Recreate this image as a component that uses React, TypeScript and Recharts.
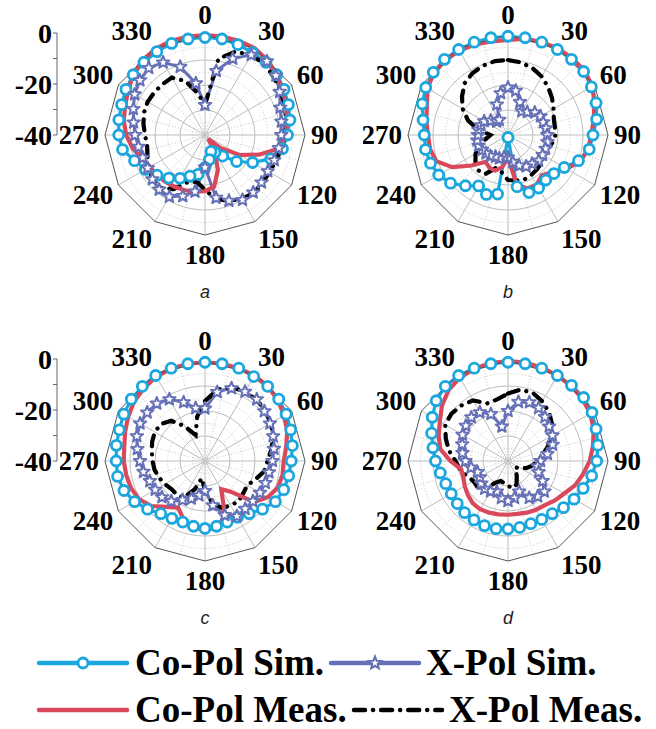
import React from "react";
import {
  RadarChart,
  Radar,
  PolarGrid,
  PolarAngleAxis,
  PolarRadiusAxis,
  LineChart,
  Line,
  XAxis,
  YAxis,
} from "recharts";

// angles in degrees, clockwise from top
const angles = [
  0, 10, 20, 30, 40, 50, 60, 70, 80, 90, 100, 110, 120, 130, 140, 150, 160, 170,
  180, 190, 200, 210, 220, 230, 240, 250, 260, 270, 280, 290, 300, 310, 320, 330, 340, 350,
];
const angleTicks = [0, 30, 60, 90, 120, 150, 180, 210, 240, 270, 300, 330];
const dbTicks = [0, -10, -20, -30, -40];
const dbLabels = [0, -20, -40];
const DB_MIN = -40;
const DB_MAX = 0;

// (a)
const aCoSim = [-1, -1, -1.5, -2, -2, -2.5, -3.5, -4.5, -5.5, -7, -8.5, -12, -18, -23.5, -29, -32, -33, -30, -27, -24, -22.5, -20, -17.5, -15, -12.5, -10, -6.5, -5.5, -5, -4.5, -3.5, -2.5, -2, -1.5, -1, -1];
const aXSim = [-28, -14, -7.5, -3, -1.5, -3, -5.5, -8, -9, -9.5, -10, -10.5, -11, -10.5, -10, -10, -12, -14.5, -27, -17, -14, -11.5, -11.5, -12.5, -13.5, -13.5, -13, -12, -11, -9.5, -7.5, -6, -5, -6.5, -11, -19];
const aCoMeas = [0, 0, 0, 0, -1, -2.5, -4, -5.5, -6.5, -7.6, -9.6, -17, -24, -32, -38, -32, -25, -19, -17.5, -17, -16.5, -16, -15.5, -15, -14.5, -13, -10.5, -8.5, -7, -6, -4.5, -2.5, -1, -0.3, 0, 0];
const aXMeas = [-28, -9, -4.5, -3, -3, -4, -5, -6, -7, -8, -9, -9.7, -10.3, -10, -9.7, -10.5, -12, -14, -18, -21, -20, -15, -12.5, -12.5, -14, -15.5, -16.5, -16, -15, -14, -13.5, -13.5, -13.5, -13.5, -17, -23];

// (b)
const bCoSim = [-0.5, -0.5, -0.5, -0.5, -0.5, -0.5, -1.5, -2.5, -4, -6, -7, -10, -14, -16, -16.5, -15.5, -15.5, -19, -39, -16, -14.7, -16.5, -13.5, -10, -8, -7, -6.5, -6.5, -5.5, -3.5, -2, -1, -0.5, -0.5, -0.5, -0.5];
const bXSim = [-21, -22, -26, -29, -28, -26, -25, -25, -24.5, -24.3, -24, -24, -24, -24, -25, -25.5, -27, -29, -31, -31, -30, -30, -29, -28.5, -28, -27.5, -27.5, -28, -28, -28.5, -29, -31, -33, -33, -27, -23];
const bCoMeas = [-2, -1, -0.5, 0, 0, 0, -1, -3.2, -5.2, -6.7, -7.5, -9.2, -13, -16.8, -19, -17, -17.2, -19.8, -31, -27, -24.8, -25, -26, -21, -14.3, -9.4, -8.3, -8, -6.8, -5.5, -2.8, -1.3, -1, -1, -1.5, -2];
const bXMeas = [-10, -10.5, -11.5, -13, -15, -17, -19, -20.5, -21, -21, -22, -23.5, -23.5, -22.5, -22, -21.5, -21, -21.5, -22, -25, -26, -22, -21.5, -23, -25, -28, -31, -33, -28, -23, -19, -16, -13, -11.5, -10.5, -10];

// (c)
const cCoSim = [-0.5, -0.5, -0.5, -1, -1, -1.5, -2.5, -3.5, -4.5, -5.5, -6, -6.5, -7.5, -10, -12.5, -14, -14, -13.5, -13, -13.5, -14, -13.5, -12.5, -10, -7.5, -5.5, -4.5, -4.5, -4, -3.5, -2.5, -1.5, -1, -0.5, -0.5, -0.5];
const cXSim = [-19, -12, -9, -8, -7.8, -9, -10, -11, -12, -13, -14, -14.3, -14.6, -15, -15, -14.5, -17, -22, -28, -26, -24, -22, -19, -17.5, -17, -16.5, -15, -14, -12.5, -11, -10, -9.8, -10, -11.5, -15, -18.5];
const cCoMeas = [-0.5, -0.5, -0.5, -0.5, -1, -2, -3.5, -5, -7, -8.5, -8.5, -9, -11, -14.5, -24, -27, -16.5, -13, -12.5, -13, -15, -18.5, -16, -12, -9.5, -8.5, -8, -7.5, -7.2, -6, -4.5, -3, -2, -1, -0.7, -0.5];
const cXMeas = [-16, -11, -8.5, -8, -8, -8.5, -9.5, -11, -13, -15, -16, -18.5, -20.5, -20, -19, -19.5, -20, -23, -28, -33, -28, -23, -22.5, -22.5, -21.5, -20.5, -19.5, -19, -18.4, -17.5, -16.8, -17, -19, -24, -29, -22];

// (d)
const dCoSim = [-0.5, -0.5, -0.5, -0.5, -0.5, -0.5, -1.2, -2.5, -3.5, -4.5, -6, -8, -9.5, -11, -12.5, -13, -13.3, -13, -12.8, -12.5, -12.5, -12.8, -13, -13.5, -13.8, -13.5, -12.5, -11, -9.5, -7.5, -5, -2.5, -1, -0.5, -0.5, -0.5];
const dXSim = [-20, -16, -15, -15.5, -17, -18.5, -19.5, -21, -24, -27, -28, -27, -24, -21, -21.5, -23, -27, -25, -24, -25, -27, -26, -25.5, -26, -27, -27, -25, -23, -21.5, -20.5, -19, -18, -17.2, -17.5, -20, -26];
const dCoMeas = [0, 0, -0.3, -0.5, -0.8, -1.2, -2, -3.5, -5.5, -7.3, -9.5, -11.5, -14, -15.5, -17, -17.5, -18, -18.5, -18.5, -18.3, -18, -17.7, -18, -19, -20, -21, -21, -17, -12.5, -10.5, -8.5, -5.5, -3, -1.5, -0.7, -0.2];
const dXMeas = [-13, -11, -11, -12.5, -14.5, -17, -20, -23, -26, -28, -30, -32, -34, -36, -35, -33, -30, -29, -30, -31, -31.5, -30, -25, -24, -24, -22.5, -20.5, -19, -16, -13.5, -11, -10.5, -11, -12, -15.5, -15];

const COLORS = {
  coSim: "#1aa7de",
  xSim: "#6570b6",
  coMeas: "#d9485b",
  xMeas: "#000000",
};

const SERIF = '"Liberation Serif", "Times New Roman", serif';
const SIZE = 290;
const OUTER = 100;
const SCALE_PAD = 30;

const rOf = (db: number) => (OUTER * (db - DB_MIN)) / (DB_MAX - DB_MIN);

const build = (coSim: number[], xSim: number[], coMeas: number[], xMeas: number[]) =>
  angles.map((angle, i) => ({ angle, coSim: coSim[i], xSim: xSim[i], coMeas: coMeas[i], xMeas: xMeas[i] }));

const panels = [
  { key: "a", data: build(aCoSim, aXSim, aCoMeas, aXMeas), cx: 205, cy: 135, scale: true },
  { key: "b", data: build(bCoSim, bXSim, bCoMeas, bXMeas), cx: 508, cy: 135, scale: false },
  { key: "c", data: build(cCoSim, cXSim, cCoMeas, cXMeas), cx: 205, cy: 461, scale: true },
  { key: "d", data: build(dCoSim, dXSim, dCoMeas, dXMeas), cx: 508, cy: 461, scale: false },
];

const legendItems = [
  { name: "Co-Pol Sim.", color: COLORS.coSim, kind: "circle", x: 39, y: 663, tx: 135 },
  { name: "X-Pol Sim.", color: COLORS.xSim, kind: "star", x: 331, y: 663, tx: 426 },
  { name: "Co-Pol Meas.", color: COLORS.coMeas, kind: "line", x: 39, y: 710, tx: 135 },
  { name: "X-Pol Meas.", color: COLORS.xMeas, kind: "dashdot", x: 354, y: 710, tx: 449 },
];

function starPath(cx: number, cy: number, R: number, r: number) {
  let d = "";
  for (let i = 0; i < 10; i++) {
    const rad = i % 2 === 0 ? R : r;
    const a = (Math.PI / 5) * i - Math.PI / 2;
    d += (i === 0 ? "M" : "L") + (cx + rad * Math.cos(a)).toFixed(2) + "," + (cy + rad * Math.sin(a)).toFixed(2);
  }
  return d + "Z";
}

const CircleDot = (p: any) => (
  <circle key={`c-${p.index}`} cx={p.cx} cy={p.cy} r={5} fill="#fff" stroke={COLORS.coSim} strokeWidth={2.8} />
);

const StarDot = (p: any) => (
  <path key={`s-${p.index}`} d={starPath(p.cx, p.cy, 6.5, 2.8)} fill="#fff" stroke={COLORS.xSim} strokeWidth={2} strokeLinejoin="round" />
);

function AngleTick(props: any) {
  const { x, y, textAnchor, payload } = props;
  const t = (payload.value * Math.PI) / 180;
  return (
    <text
      x={x}
      y={y}
      dy={-Math.cos(t) * 14}
      textAnchor={textAnchor}
      dominantBaseline="central"
      fontFamily={SERIF}
      fontSize={27}
      fontWeight="bold"
      fill="#000"
    >
      {payload.value}
    </text>
  );
}

function DbTick(props: any) {
  const { x, y, payload } = props;
  if (!dbLabels.includes(payload.value)) return <g />;
  return (
    <text x={x} y={y} textAnchor="end" dominantBaseline="central" fontFamily={SERIF} fontSize={28} fontWeight="bold" fill="#000">
      {payload.value}
    </text>
  );
}

function PolarPanel({ data }: { data: any[] }) {
  return (
    <RadarChart width={SIZE} height={SIZE} data={data} outerRadius={OUTER}>
      <PolarGrid
        gridType="circle"
        innerRadius={rOf(-30)}
        polarAngles={angleTicks.map((a) => a + 15)}
        polarRadius={[-35, -25, -15, -5].map(rOf)}
        stroke="#c8c8c8"
        strokeDasharray="1 2"
      />
      <PolarGrid
        gridType="circle"
        innerRadius={rOf(-30)}
        polarAngles={angleTicks}
        polarRadius={[-30, -20, -10].map(rOf)}
        stroke="#bdbdbd"
      />
      <PolarAngleAxis
        dataKey="angle"
        type="number"
        domain={[0, 360]}
        ticks={angleTicks}
        tickSize={6}
        tickLine={false}
        axisLine={{ stroke: "#555", strokeWidth: 1 }}
        tick={AngleTick}
      />
      <PolarRadiusAxis domain={[DB_MIN, DB_MAX]} type="number" tick={false} axisLine={false} />
      <Radar
        dataKey="coSim"
        stroke={COLORS.coSim}
        strokeWidth={3.2}
        fill="none"
        fillOpacity={0}
        dot={CircleDot}
        isAnimationActive={false}
      />
      <Radar
        dataKey="xSim"
        stroke={COLORS.xSim}
        strokeWidth={3}
        fill="none"
        fillOpacity={0}
        dot={StarDot}
        isAnimationActive={false}
      />
      <Radar
        dataKey="xMeas"
        stroke={COLORS.xMeas}
        strokeWidth={4.2}
        strokeDasharray="11 8 0.1 8"
        strokeLinecap="round"
        fill="none"
        fillOpacity={0}
        isAnimationActive={false}
      />
      <Radar
        dataKey="coMeas"
        stroke={COLORS.coMeas}
        strokeWidth={4.2}
        fill="none"
        fillOpacity={0}
        isAnimationActive={false}
      />
    </RadarChart>
  );
}

function DbScale() {
  return (
    <LineChart
      width={70}
      height={OUTER + 2 * SCALE_PAD + 2}
      data={dbTicks.map((v, i) => ({ i, v }))}
      margin={{ top: SCALE_PAD, right: 0, bottom: SCALE_PAD, left: 0 }}
    >
      <XAxis dataKey="i" hide />
      <YAxis
        type="number"
        domain={[DB_MIN, DB_MAX]}
        ticks={dbTicks}
        interval={0}
        width={57}
        tickSize={4}
        tickMargin={1}
        stroke="#666"
        tick={DbTick}
      />
      {/* invisible series so the axis gets a scale */}
      <Line dataKey="v" stroke="none" dot={false} activeDot={false} isAnimationActive={false} />
    </LineChart>
  );
}

function LegendMark({ item }: { item: (typeof legendItems)[number] }) {
  const x1 = item.x;
  const x2 = item.x + 88;
  const mid = (x1 + x2) / 2;
  return (
    <g>
      <line
        x1={x1}
        x2={x2}
        y1={item.y}
        y2={item.y}
        stroke={item.color}
        strokeWidth={4.5}
        strokeLinecap="round"
        strokeDasharray={item.kind === "dashdot" ? "11 8 0.1 8" : undefined}
      />
      {item.kind === "circle" && <circle cx={mid} cy={item.y} r={5} fill="#fff" stroke={item.color} strokeWidth={2.8} />}
      {item.kind === "star" && <path d={starPath(mid, item.y, 6.5, 2.8)} fill="#fff" stroke={item.color} strokeWidth={2} />}
      <text x={item.tx} y={item.y + 12} fontFamily={SERIF} fontSize={37} fontWeight="bold" fill="#000">
        {item.name}
      </text>
    </g>
  );
}

export default function App() {
  return (
    <div style={{ position: "absolute", left: 0, top: 0, width: 656, height: 729, background: "#fff", overflow: "hidden" }}>
      {panels.map((p) => (
        <div key={p.key}>
          <div style={{ position: "absolute", left: p.cx - SIZE / 2, top: p.cy - SIZE / 2 }}>
            <PolarPanel data={p.data} />
          </div>
          {p.scale && (
            <div style={{ position: "absolute", left: 0, top: p.cy - OUTER - SCALE_PAD - 2 }}>
              <DbScale />
            </div>
          )}
          <div
            style={{
              position: "absolute",
              left: p.cx - 20,
              width: 40,
              top: p.cy + 147,
              textAlign: "center",
              fontFamily: '"Liberation Sans", Arial, sans-serif',
              fontStyle: "italic",
              fontSize: 18,
              color: "#222",
            }}
          >
            {p.key}
          </div>
        </div>
      ))}
      <svg width={656} height={729} style={{ position: "absolute", left: 0, top: 0, pointerEvents: "none" }}>
        {legendItems.map((it) => (
          <LegendMark key={it.name} item={it} />
        ))}
      </svg>
    </div>
  );
}
